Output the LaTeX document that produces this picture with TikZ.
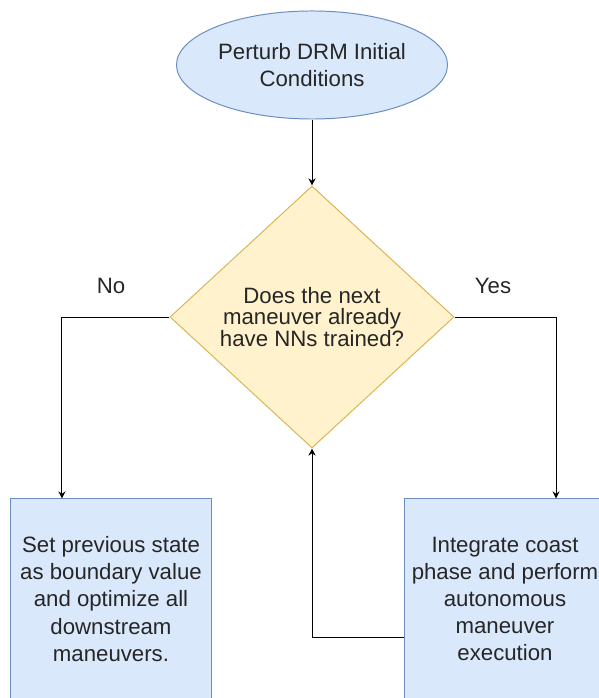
\documentclass[tikz,border=0pt]{standalone}
\usepackage{fontspec}
\setmainfont{Liberation Sans}
\usetikzlibrary{shapes.geometric,arrows.meta}

\definecolor{drmblue}{HTML}{DAE8FC}
\definecolor{drmblueline}{HTML}{6C8EBF}
\definecolor{nnyellow}{HTML}{FFF2CC}
\definecolor{nnyellowline}{HTML}{D6B656}

\begin{document}
\begin{tikzpicture}[x=0.025cm,y=0.025cm,line width=0.7pt,every text node part/.style={align=center},
    txt/.style={font=\fontsize{15.8}{19.3}\selectfont,text=black!85},
    startnode/.style={ellipse,draw=drmblueline,fill=drmblue,minimum width=6.775cm,minimum height=2.7cm,inner sep=0pt,txt},
    decnode/.style={diamond,draw=nnyellowline,fill=nnyellow,minimum width=7.1cm,minimum height=6.55cm,inner sep=0pt,font=\fontsize{15.8}{15}\selectfont,text=black!85},
    stepbox/.style={rectangle,draw=drmblueline,fill=drmblue,minimum width=5cm,minimum height=5cm,inner sep=0pt,txt},
    arr/.style={-{Stealth[length=5pt,width=5pt]}}]

    \useasboundingbox (0,0) rectangle (599,698);
    \clip (0,0) rectangle (599,698);

    % --------------------------------------------------------- %
    % ------------- start (perturbation)
    % --------------------------------------------------------- %
    \node[startnode] (perturb) at (312,633) {Perturb DRM Initial\\Conditions};

    % --------------------------------------------------------- %
    % ------------- decision (NNs trained ?)
    % --------------------------------------------------------- %
    \node[decnode] (decision) at (312,381) {Does the next\\maneuver already\\have NNs trained?};
    \draw [arr] (perturb.south) -- (decision.north);

    \node[txt] (no) at (111,412) {No};
    \node[txt] (yes) at (493,412) {Yes};

    % --------------------------------------------------------- %
    % ------------ both branches
    % --------------------------------------------------------- %
    \node[stepbox] (optimize) at (111,99) {Set previous state\\as boundary value\\and optimize all\\downstream\\maneuvers.};
    \draw [arr] (decision.west) -| ([xshift=-1.225cm]optimize.north);

    \node[stepbox] (integrate) at (505,99) {Integrate coast\\phase and perform\\autonomous\\maneuver\\execution};
    \draw [arr] (decision.east) -| ([xshift=1.275cm]integrate.north);

    % back to the decision
    \draw [arr] ([yshift=-0.95cm]integrate.west) -| (decision.south);

  \end{tikzpicture}
\end{document}
